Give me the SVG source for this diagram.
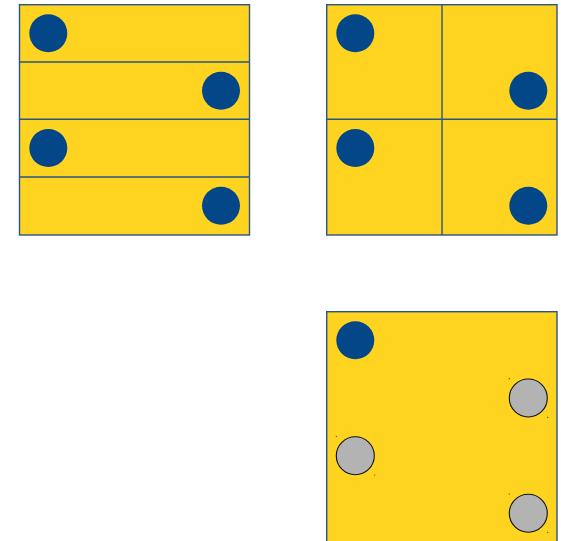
<svg xmlns="http://www.w3.org/2000/svg" width="561" height="541" viewBox="0 0 561 541">
<style>
.panel{fill:#FED420;stroke:#2B5585;stroke-width:1.4}
.div{stroke:#2B5585;stroke-width:1.4;fill:none}
.blue{fill:#034788}
.gray{fill:#B3B3B3;stroke:#111;stroke-width:1.1}
.dot{fill:#333}
</style>
<rect width="561" height="541" fill="#fff"/>
<g id="panel-rows">
<rect class="panel" x="19.5" y="4.7" width="230" height="230.3"/>
<path class="div" d="M19.5 62H249.5M19.5 119.3H249.5M19.5 177H249.5"/>
<circle class="blue" cx="48.3" cy="33.3" r="19"/>
<circle class="blue" cx="221" cy="90.7" r="19"/>
<circle class="blue" cx="48.3" cy="148" r="19"/>
<circle class="blue" cx="221" cy="205.7" r="19"/>
</g>
<g id="panel-grid">
<rect class="panel" x="326.7" y="4.7" width="230.3" height="230.3"/>
<path class="div" d="M442 4.7V235M326.7 119.3H557"/>
<circle class="blue" cx="355.3" cy="33.3" r="19"/>
<circle class="blue" cx="528.3" cy="90.7" r="19"/>
<circle class="blue" cx="355.3" cy="148" r="19"/>
<circle class="blue" cx="528.3" cy="205.7" r="19"/>
</g>
<g id="panel-single">
<rect class="panel" x="326.7" y="311.7" width="230.3" height="240"/>
<circle class="blue" cx="355.3" cy="340.3" r="19"/>
<circle class="gray" cx="528.3" cy="398" r="19"/>
<circle class="gray" cx="355.3" cy="455.7" r="19"/>
<circle class="gray" cx="528.3" cy="513.3" r="19"/>
<circle class="dot" cx="509.3" cy="378.7" r="0.6"/>
<circle class="dot" cx="547.7" cy="417.3" r="0.6"/>
<circle class="dot" cx="336.3" cy="436.3" r="0.6"/>
<circle class="dot" cx="374.7" cy="475" r="0.6"/>
<circle class="dot" cx="509.3" cy="494" r="0.6"/>
<circle class="dot" cx="547.7" cy="532.3" r="0.6"/>
</g>
<g id="connectors"></g>
</svg>
